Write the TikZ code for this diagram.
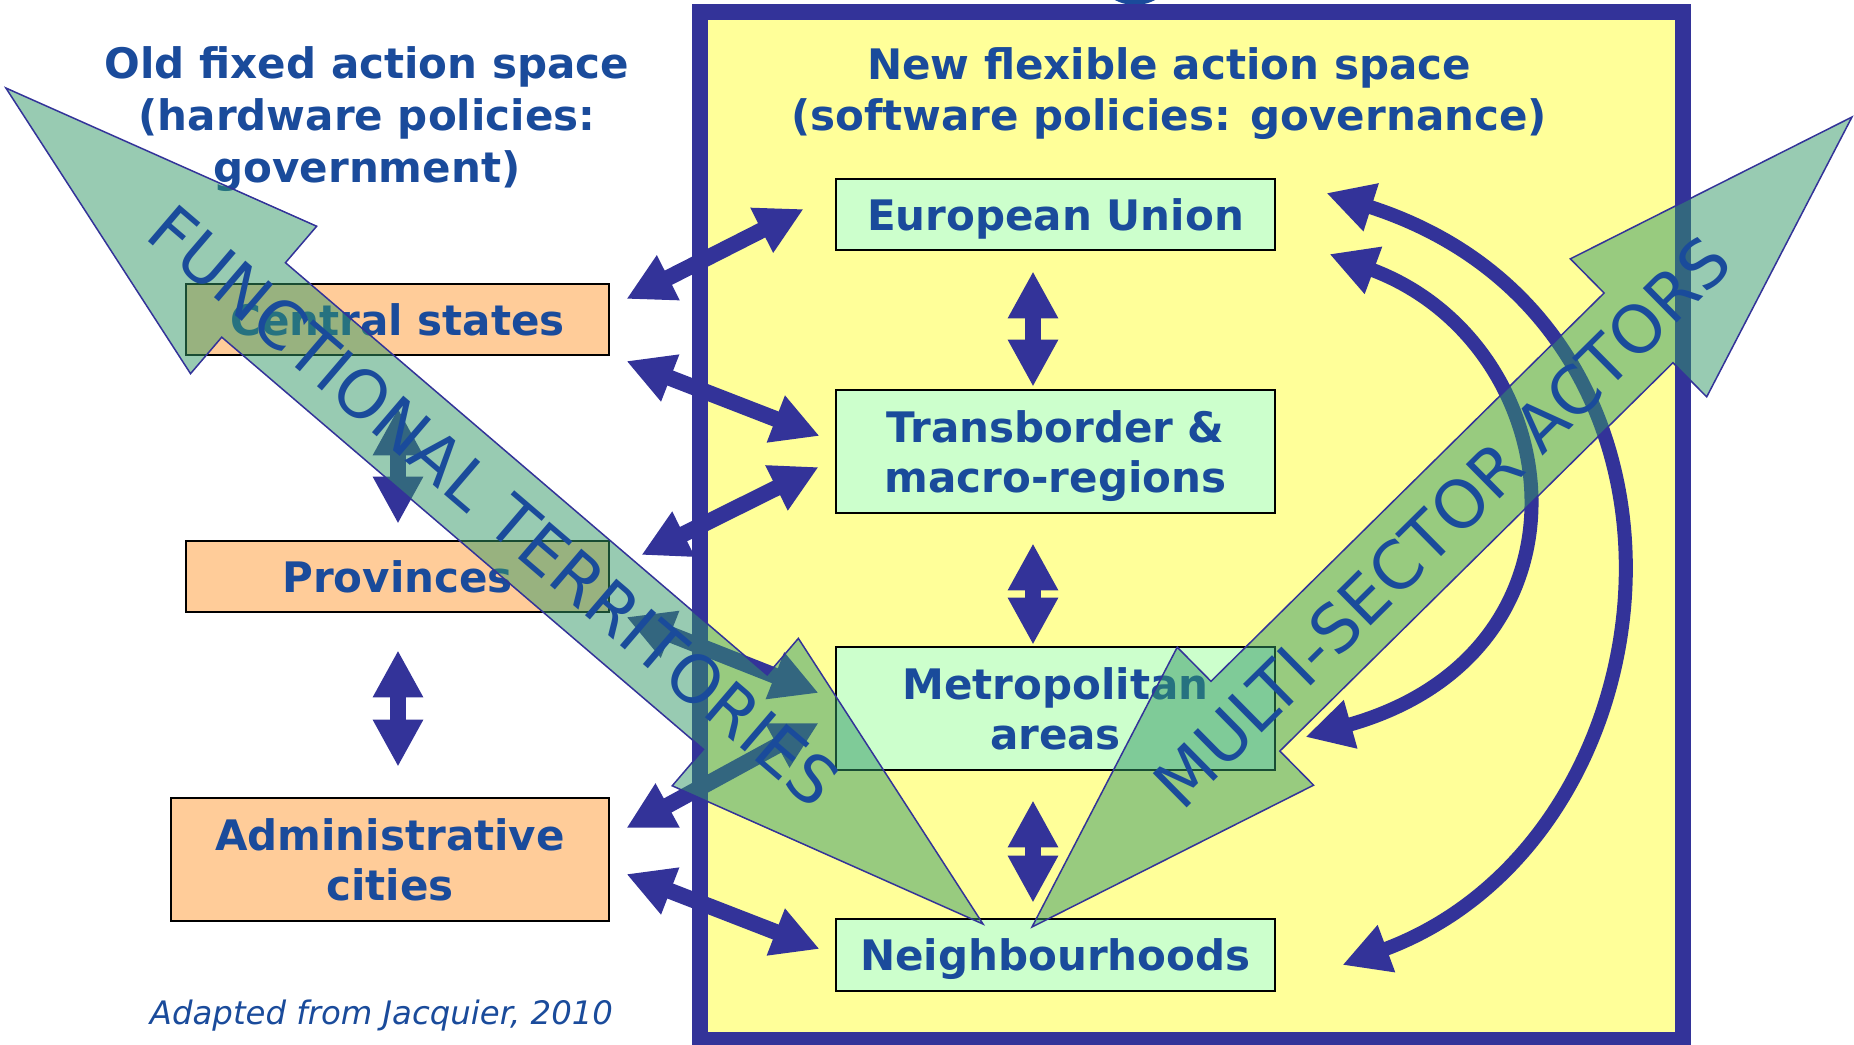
\documentclass[tikz,border=0pt]{standalone}
\usepackage{fontspec}
\setmainfont{DejaVu Sans}
\usetikzlibrary{arrows.meta, calc}

\definecolor{textblue}{RGB}{26,75,155}
\definecolor{indigo}{RGB}{51,51,153}
\definecolor{paleyellow}{RGB}{255,255,153}
\definecolor{boxorange}{RGB}{255,204,153}
\definecolor{boxgreen}{RGB}{204,255,204}
\definecolor{bandgreen}{RGB}{51,153,102}

\newcommand\headfont{\bfseries\fontsize{11.95}{14.7}\selectfont}
\newcommand\cellfont{\bfseries\fontsize{11.95}{14.2}\selectfont}
\newcommand\bandfont{\fontsize{18.8}{22}\selectfont}
\newcommand\notefont{\itshape\fontsize{9.2}{11}\selectfont}

\begin{document}
\begin{tikzpicture}[x=0.01cm, y=-0.01cm,
    headtext/.style={text=textblue, font=\headfont, align=center, inner sep=0pt},
    oldbox/.style={draw=black, line width=0.025cm, fill=boxorange, text=textblue,
      font=\cellfont, align=center, inner sep=0pt, text depth=0pt,
      minimum width=4.23cm, minimum height=0.71cm},
    newbox/.style={oldbox, fill=boxgreen, minimum width=4.39cm},
    link/.style={draw=indigo, line width=0.16cm,
      {Triangle[length=0.47cm, width=0.47cm]}-{Triangle[length=0.47cm, width=0.47cm]}},
    swing/.style={link, line width=0.14cm},
    band/.style={fill=bandgreen, fill opacity=0.5, draw=indigo, line width=0.015cm},
    bandtext/.style={text=textblue, font=\bandfont, inner sep=0pt}]

  \path[use as bounding box, fill=white] (0,0) rectangle (1854,1044);

  % Governance frame
  \fill[textblue] (1135,-37.5) circle (0.425cm);
  \draw[draw=indigo, line width=0.16cm, fill=paleyellow] (700,12) rectangle (1682.5,1040);

  % Titles
  \node[headtext] (oldtitle) at (367,119)
    {Old fixed action space\\(hardware policies:\\government)};
  \node[headtext] (newtitle) at (1169,93.5)
    {New flexible action space\\(software policies: governance)};

  % Government levels
  \node[oldbox] (central) at (397.5,319.5) {Central states};
  \node[oldbox] (provinces) at (397.5,576.5) {Provinces};
  \node[oldbox, minimum width=4.38cm, minimum height=1.23cm] (cities) at (390,859.5)
    {Administrative\\cities};

  % Governance levels
  \node[newbox] (eu) at (1055.5,214.5) {European Union};
  \node[newbox, minimum height=1.23cm] (transborder) at (1055.5,451.5)
    {Transborder \&\\macro-regions};
  \node[newbox, minimum height=1.23cm] (metro) at (1055.5,708.5)
    {Metropolitan\\areas};
  \node[newbox, minimum height=0.72cm] (hoods) at (1055.5,955) {Neighbourhoods};

  % Vertical links
  \draw[link] ($(central.south)+(0.5,52)$) -- ($(provinces.north)+(0.5,-16)$);
  \draw[link] ($(provinces.south)+(0.5,37)$) -- ($(cities.north)+(8,-30)$);
  \draw[link] ($(eu.south)+(-22.5,20)$) -- ($(transborder.north)+(-22.5,-2)$);
  \draw[link] ($(transborder.south)+(-22.5,29)$) -- ($(metro.north)+(-22.5,-1)$);
  \draw[link] ($(metro.south)+(-22.5,29)$) -- ($(hoods.north)+(-22.5,-15)$);

  % Links across the frame
  \draw[link] ($(central.east)+(16,-20.5)$) -- ($(eu.west)+(-31,-5.5)$);
  \draw[link] ($(central.east)+(16,41.5)$) -- ($(transborder.west)+(-15,-15.5)$);
  \draw[link] ($(provinces.east)+(31,-21.5)$) -- ($(transborder.west)+(-16,15.5)$);
  \draw[link] ($(provinces.east)+(16,40.5)$) -- ($(metro.west)+(-16,-15.5)$);
  \draw[link] ($(cities.east)+(16,-31.5)$) -- ($(metro.west)+(-16,14.5)$);
  \draw[link] ($(cities.east)+(16,14.5)$) -- ($(hoods.west)+(-15,-6)$);

  % Curved links
  \draw[swing] ($(hoods.east)+(66,10)$) .. controls +(342,-127) and +(407,130)
    .. ($(eu.east)+(50,-21.5)$);
  \draw[swing] ($(metro.east)+(29,28.5)$) .. controls +(303,-85) and +(240,89)
    .. ($(eu.east)+(53,39.5)$);

  % Functional territories
  \begin{scope}[shift={(983,924)}, rotate=139.45]
    \draw[band] (0,0) -- (326,97) -- (326,49) -- (960,49) -- (960,97) -- (1286,0)
      -- (960,-97) -- (960,-49) -- (326,-49) -- (326,-97) -- cycle;
  \end{scope}

  % Multi-sector actors
  \begin{scope}[shift={(1032,927)}, rotate=44.65]
    \draw[band] (0,0) -- (300,97) -- (300,49) -- (852.6,49) -- (852.6,97) -- (1152.6,0)
      -- (852.6,-97) -- (852.6,-49) -- (300,-49) -- (300,-97) -- cycle;
  \end{scope}

  \node[bandtext, rotate=-40.55] (functional) at (494.5,506) {FUNCTIONAL TERRITORIES};
  \node[bandtext, rotate=44.65] (multisector) at (1442,522) {MULTI-SECTOR ACTORS};

  \node[text=textblue, font=\notefont, anchor=base, inner sep=0pt] (source) at (381.5,1024)
    {Adapted from Jacquier, 2010};

\end{tikzpicture}
\end{document}
